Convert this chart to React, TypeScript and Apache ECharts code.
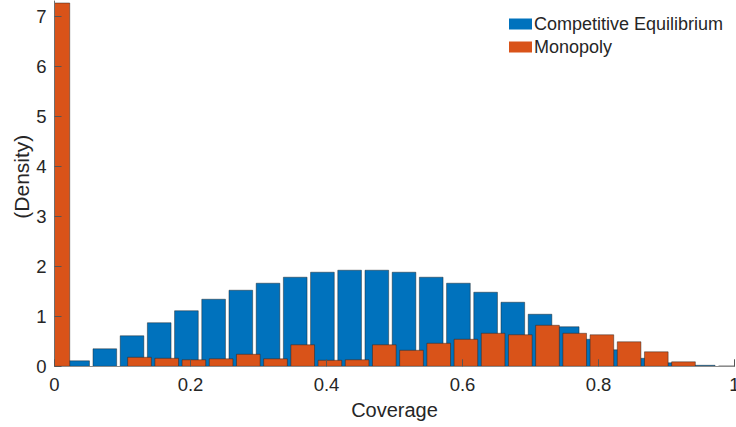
import React, { useEffect, useRef } from "react";
import * as echarts from "echarts";

const seriesNames = ["Competitive Equilibrium", "Monopoly"];

const blueCenters = [
  0.034, 0.074, 0.114, 0.154, 0.194, 0.234, 0.274, 0.314, 0.354, 0.394,
  0.434, 0.474, 0.514, 0.554, 0.594, 0.634, 0.674, 0.714, 0.754, 0.794,
  0.834, 0.874, 0.914, 0.954, 0.994,
];
const blueValues = [
  0.11, 0.35, 0.61, 0.87, 1.11, 1.34, 1.52, 1.66, 1.78, 1.88,
  1.92, 1.92, 1.88, 1.78, 1.66, 1.48, 1.28, 1.04, 0.79, 0.54,
  0.33, 0.16, 0.07, 0.02, 0.006,
];

const orangeCenters = [
  0.005, 0.045, 0.085, 0.125, 0.165, 0.205, 0.245, 0.285, 0.325, 0.365,
  0.405, 0.445, 0.485, 0.525, 0.565, 0.605, 0.645, 0.685, 0.725, 0.765,
  0.805, 0.845, 0.885, 0.925, 0.965,
];
const orangeValues = [
  7.26, 0, 0, 0.18, 0.16, 0.13, 0.15, 0.24, 0.15, 0.43,
  0.12, 0.13, 0.43, 0.32, 0.46, 0.54, 0.66, 0.63, 0.82, 0.66,
  0.63, 0.49, 0.29, 0.09, 0,
];

const xTicks = [0, 0.2, 0.4, 0.6, 0.8, 1];
const yTicks = [0, 1, 2, 3, 4, 5, 6, 7];

const BLUE = "#0072BD";
const ORANGE = "#D95319";
const TEXT = "#262626";
const FONT = "'Liberation Sans', Arial, Helvetica, sans-serif";
const HALF_WIDTH = 0.0174;

function makeRender() {
  return (params: any, api: any) => {
    const c = api.value(0);
    const v = api.value(1);
    if (!v) return null;
    const p0 = api.coord([c - HALF_WIDTH, 0]);
    const p1 = api.coord([c + HALF_WIDTH, v]);
    const cs = params.coordSys;
    const shape = echarts.graphic.clipRectByRect(
      { x: p0[0], y: p1[1], width: p1[0] - p0[0], height: p0[1] - p1[1] },
      { x: cs.x, y: cs.y, width: cs.width, height: cs.height }
    );
    if (!shape) return null;
    return {
      type: "rect",
      shape,
      style: { fill: api.visual("color"), stroke: "rgba(30,30,30,0.75)", lineWidth: 0.6 },
    };
  };
}

export default function App() {
  const ref = useRef<HTMLDivElement>(null);
  useEffect(() => {
    if (!ref.current) return;
    const chart = echarts.init(ref.current, undefined, { renderer: "svg" });
    chart.setOption({
      animation: false,
      backgroundColor: "#ffffff",
      textStyle: { fontFamily: FONT },
      grid: {
        left: 54.5,
        right: 1.5,
        top: 1,
        bottom: 60.7,
        containLabel: false,
        outerBoundsMode: "none",
      },
      legend: {
        orient: "vertical",
        left: 504,
        top: 10,
        itemWidth: 23,
        itemHeight: 11,
        itemGap: 5,
        icon: "rect",
        data: seriesNames,
        itemStyle: { borderWidth: 0 },
        textStyle: { fontSize: 18, color: TEXT, fontFamily: FONT, padding: [0, 0, 0, -3] },
      },
      xAxis: {
        type: "value",
        min: xTicks[0],
        max: xTicks[xTicks.length - 1],
        interval: 0.2,
        z: 5,
        name: "Coverage",
        nameLocation: "middle",
        nameGap: 34,
        nameMoveOverlap: false,
        nameTextStyle: { fontSize: 20, color: TEXT, fontFamily: FONT },
        axisLine: { show: true, lineStyle: { color: "#8c8c8c", width: 1 } },
        axisTick: { show: true, inside: true, length: 7, lineStyle: { color: "#555" } },
        axisLabel: {
          fontSize: 18.5,
          color: TEXT,
          margin: 9,
          formatter: (v: number) => String(+v.toFixed(1)),
        },
        splitLine: { show: false },
      },
      yAxis: {
        type: "value",
        min: yTicks[0],
        max: 7.3,
        interval: 1,
        z: 5,
        name: "(Density)",
        nameLocation: "middle",
        nameGap: 23,
        nameRotate: 90,
        nameMoveOverlap: false,
        nameTextStyle: { fontSize: 21, color: TEXT, fontFamily: FONT, padding: [0, 0, 0, 14] },
        axisLine: { show: true, lineStyle: { color: "#6e6e6e", width: 1 } },
        axisTick: { show: true, inside: true, length: 7, lineStyle: { color: "#555" } },
        axisLabel: { fontSize: 18.5, color: TEXT, margin: 8, showMaxLabel: false },
        splitLine: { show: false },
      },
      series: [
        {
          name: seriesNames[0],
          type: "custom",
          renderItem: makeRender(),
          itemStyle: { color: BLUE },
          encode: { x: 0, y: 1 },
          data: blueCenters.map((c, i) => [c, blueValues[i]]),
        },
        {
          name: seriesNames[1],
          type: "custom",
          renderItem: makeRender(),
          itemStyle: { color: ORANGE },
          encode: { x: 0, y: 1 },
          data: orangeCenters.map((c, i) => [c, orangeValues[i]]),
        },
      ],
    });
    return () => chart.dispose();
  }, []);
  return (
    <div
      ref={ref}
      style={{ position: "fixed", left: 0, top: 0, width: 736, height: 427, background: "#fff" }}
    />
  );
}
